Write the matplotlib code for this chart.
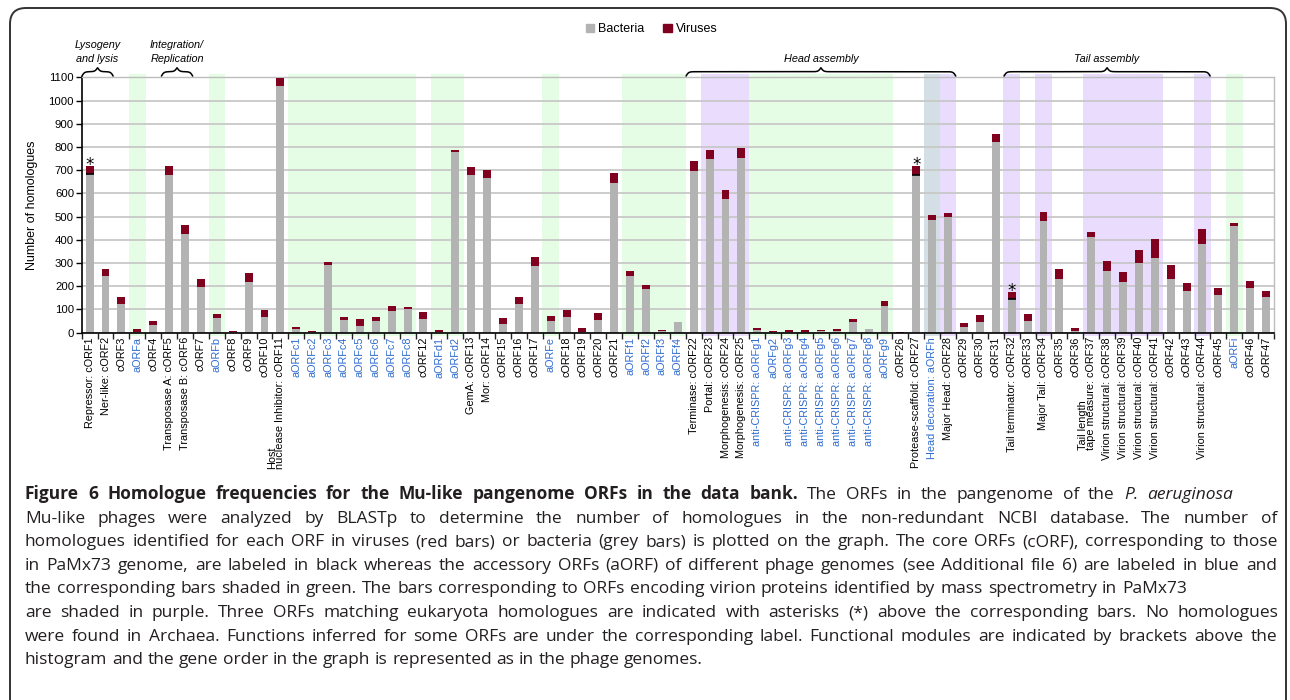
import numpy as np
import matplotlib
matplotlib.use("Agg")
import matplotlib.pyplot as plt
from matplotlib.patches import Patch, FancyBboxPatch
from matplotlib.transforms import IdentityTransform

plt.rcParams['font.family'] = ['Liberation Sans', 'DejaVu Sans']

# ORF labels in genome order
labels = [
    "Repressor: cORF1", "Ner-like: cORF2", "cORF3", "aORFa", "cORF4",
    "Transposase A: cORF5", "Transposase B: cORF6", "cORF7", "aORFb", "cORF8",
    "cORF9", "cORF10", "Host\nnuclease Inhibitor: cORF11", "aORFc1", "aORFc2",
    "aORFc3", "aORFc4", "aORFc5", "aORFc6", "aORFc7",
    "aORFc8", "cORF12", "aORFd1", "aORFd2", "GemA: cORF13",
    "Mor: cORF14", "cORF15", "cORF16", "cORF17", "aORFe",
    "cORF18", "cORF19", "cORF20", "cORF21", "aORFf1",
    "aORFf2", "aORFf3", "aORFf4", "Terminase: cORF22", "Portal: cORF23",
    "Morphogenesis: cORF24", "Morphogenesis: cORF25", "anti-CRISPR: aORFg1", "aORFg2", "anti-CRISPR: aORFg3",
    "anti-CRISPR: aORFg4", "anti-CRISPR: aORFg5", "anti-CRISPR: aORFg6", "anti-CRISPR: aORFg7", "anti-CRISPR: aORFg8",
    "aORFg9", "cORF26", "Protease-scaffold: cORF27", "Head decoration: aORFh", "Major Head: cORF28",
    "cORF29", "cORF30", "cORF31", "Tail terminator: cORF32", "cORF33",
    "Major Tail: cORF34", "cORF35", "cORF36", "Tail length\ntape measure: cORF37", "Virion structural: cORF38",
    "Virion structural: cORF39", "Virion structural: cORF40", "Virion structural: cORF41", "cORF42", "cORF43",
    "Virion structural: cORF44", "cORF45", "aORFi", "cORF46", "cORF47",
]

bacteria = [
    683, 244, 123, 1, 33, 679, 425, 197, 63, 3,
    218, 67, 1062, 16, 4, 291, 55, 29, 50, 93,
    102, 59, 1, 778, 679, 666, 37, 123, 287, 50,
    67, 3, 55, 645, 244, 188, 6, 46, 696, 748,
    576, 752, 11, 4, 4, 4, 6, 7, 46, 16,
    115, 0, 680, 485, 498, 24, 46, 821, 145, 50,
    481, 231, 7, 412, 266, 218, 300, 322, 231, 179,
    382, 162, 459, 192, 153,
]

viruses = [
    35, 30, 31, 15, 17, 39, 39, 34, 17, 5,
    40, 32, 35, 8, 4, 13, 12, 30, 17, 22,
    8, 30, 10, 9, 34, 34, 26, 31, 39, 22,
    31, 17, 30, 43, 22, 17, 5, 0, 43, 39,
    38, 43, 9, 3, 7, 7, 5, 9, 13, 0,
    21, 3, 38, 22, 17, 18, 30, 35, 30, 30,
    39, 43, 13, 22, 43, 43, 56, 81, 60, 35,
    64, 30, 13, 31, 26,
]

# ORFs found by mass spectrometry (purple)
virion = ["cORF23", "cORF24", "cORF25", "aORFh", "cORF28", "cORF32", "cORF34",
          "cORF37", "cORF38", "cORF39", "cORF40", "cORF41", "cORF44"]
# ORFs with eukaryota homologues
starred = ["cORF1", "cORF27", "cORF32"]
# functional modules: (name, first ORF, last ORF)
modules = [("Lysogeny\nand lysis", "cORF1", "cORF2"),
           ("Integration/\nReplication", "cORF5", "cORF6"),
           ("Head assembly", "cORF22", "cORF28"),
           ("Tail assembly", "cORF32", "cORF44")]

caption = [
    [("Figure 6 Homologue frequencies for the Mu-like pangenome ORFs in the data bank.", "bold"),
     ("The ORFs in the pangenome of the", "normal"), ("P. aeruginosa", "italic")],
    [("Mu-like phages were analyzed by BLASTp to determine the number of homologues in the non-redundant NCBI database. The number of", "normal")],
    [("homologues identified for each ORF in viruses (red bars) or bacteria (grey bars) is plotted on the graph. The core ORFs (cORF), corresponding to those", "normal")],
    [("in PaMx73 genome, are labeled in black whereas the accessory ORFs (aORF) of different phage genomes (see Additional file 6) are labeled in blue and", "normal")],
    [("the corresponding bars shaded in green. The bars corresponding to ORFs encoding virion proteins identified by mass spectrometry in PaMx73", "normal")],
    [("are shaded in purple. Three ORFs matching eukaryota homologues are indicated with asterisks (*) above the corresponding bars. No homologues", "normal")],
    [("were found in Archaea. Functions inferred for some ORFs are under the corresponding label. Functional modules are indicated by brackets above the", "normal")],
    [("histogram and the gene order in the graph is represented as in the phage genomes.", "normal")],
]
caption_right = [1233, 1277, 1278, 1277, 1187, 1278, 1277, 731]
caption_justify = [True, True, True, True, True, True, True, False]

GREY = "#b3b3b3"
RED = "#800020"
BLUE = "#2f6bcf"
CAPFONT = "Open Sans"


def orf_id(label):
    return label.split(": ")[-1]


def idx(name):
    return [orf_id(l) for l in labels].index(name)


def brace(ax, a, b, y0=1103, y1=1124, y2=1141, beta=12):
    xh = np.linspace(a, (a + b) / 2, 300)
    yh = 1 / (1 + np.exp(-beta * (xh - xh[0]))) + 1 / (1 + np.exp(-beta * (xh - xh[-1])))
    xs = np.concatenate([xh, (a + b) - xh[::-1]])
    yn = np.concatenate([yh, yh[::-1]])
    y = np.where(yn <= 1, y0 + (yn - 0.5) * 2 * (y1 - y0), y1 + (yn - 1) * 2 * (y2 - y1))
    ax.plot(xs, y, color="black", lw=1.1, clip_on=False, solid_capstyle="butt")


def caption_words(fig, segs, y, fs):
    objs = []
    for text, st in segs:
        for w in text.split():
            objs.append(fig.text(0, y, w, fontsize=fs, family=CAPFONT, color="#231f20",
                                 weight="bold" if st == "bold" else "normal",
                                 style="italic" if st == "italic" else "normal",
                                 ha="left", va="baseline"))
    return objs


def space_width(fig, r, fs):
    p1 = fig.text(0, 0, "x x", fontsize=fs, family=CAPFONT)
    p2 = fig.text(0, 0, "xx", fontsize=fs, family=CAPFONT)
    s = p1.get_window_extent(r).width - p2.get_window_extent(r).width
    p1.remove()
    p2.remove()
    return s


def draw_caption(fig):
    r = fig.canvas.get_renderer()
    # pick a size: last line should reach its width, others must fit
    fs0 = 10.0
    sp0 = space_width(fig, r, fs0)
    scales = []
    for segs, right, just in zip(caption, caption_right, caption_justify):
        objs = caption_words(fig, segs, 0, fs0)
        w = sum(t.get_window_extent(r).width for t in objs) + sp0 * (len(objs) - 1)
        for t in objs:
            t.remove()
        s = (right - 25) / w
        scales.append(s * (0.985 if just else 1.0))
    fs = fs0 * min(scales)
    space = space_width(fig, r, fs)
    for k, (segs, right, just) in enumerate(zip(caption, caption_right, caption_justify)):
        y = 1 - (499 + k * 23.6) / 700
        objs = caption_words(fig, segs, y, fs)
        widths = [t.get_window_extent(r).width for t in objs]
        gap = (right - 25 - sum(widths)) / (len(objs) - 1) if just else space
        x = 25
        for t, w in zip(objs, widths):
            t.set_x(x / 1290)
            x += w + gap


def main():
    fig = plt.figure(figsize=(12.9, 7), dpi=100)
    ax = fig.add_axes([0.0633, 0.5247, 0.9243, 0.3649])
    n = len(labels)
    x = np.arange(n)

    # shading
    for i, lab in enumerate(labels):
        acc = "aORF" in lab
        vir = orf_id(lab) in virion
        if acc and vir:
            c = "#d3dfe4"
        elif acc:
            c = "#e5fde4"
        elif vir:
            c = "#e9dcfd"
        else:
            continue
        ax.axvspan(i - 0.52, i + 0.52, ymin=-0.012, ymax=1.012, color=c, lw=0, zorder=0, clip_on=False)

    ax.bar(x, bacteria, width=0.5, color=GREY, zorder=3, label="Bacteria")
    ax.bar(x, viruses, width=0.5, bottom=bacteria, color=RED, zorder=3, label="Viruses")

    for name in starred:
        i = idx(name)
        tot = bacteria[i] + viruses[i]
        ax.hlines(bacteria[i], i - 0.25, i + 0.25, color="black", lw=1.2, zorder=4)
        ax.annotate("*", (i, tot), xytext=(0, -3), textcoords="offset points",
                    ha="center", va="baseline", fontsize=12, family="DejaVu Sans")

    for name, first, last in modules:
        a, b = idx(first) - 0.5, idx(last) + 0.5
        brace(ax, a, b)
        ax.text((a + b) / 2, 1156, name, ha="center", va="bottom", style="italic",
                fontsize=7.8, linespacing=1.5, clip_on=False)

    ax.set_xlim(-0.5, n - 0.5)
    ax.set_ylim(0, 1100)
    ax.set_yticks(np.arange(0, 1101, 100))
    ax.yaxis.grid(True, color="#c8c8c8", lw=1.3)
    ax.set_axisbelow(True)
    ax.tick_params(axis="y", length=4, width=1, labelsize=8.2, pad=1.5)
    ax.set_ylabel("Number of homologues", fontsize=9)
    ax.yaxis.set_label_coords(-0.0366, 0.5)

    # tick labels: last line sits on the tick, a first line goes to its left
    ax.set_xticks(x)
    ax.set_xticklabels([l.split("\n")[-1] for l in labels], rotation=90, fontsize=7.8)
    ax.set_xticks(np.arange(-0.5, n, 1), minor=True)
    ax.tick_params(axis="x", which="major", length=0, pad=3)
    ax.tick_params(axis="x", which="minor", length=4, width=1, color="#222222")
    for lab, t in zip(labels, ax.get_xticklabels()):
        col = BLUE if "aORF" in lab else "black"
        t.set_color(col)
        if "\n" in lab:
            ax.annotate(lab.split("\n")[0], xy=(0.5, 0), xycoords=t, xytext=(-6.2, 0),
                        textcoords="offset points", rotation=90, ha="center", va="bottom",
                        fontsize=7.8, color=col, annotation_clip=False)

    for s in ["left", "bottom"]:
        ax.spines[s].set_color("black")
        ax.spines[s].set_linewidth(1.2)
    for s in ["top", "right"]:
        ax.spines[s].set_color("#bdbdbd")
        ax.spines[s].set_linewidth(1.0)
    ax.spines["bottom"].set_zorder(5)

    handles = [Patch(color=GREY), Patch(color=RED)]
    fig.legend(handles, ["Bacteria", "Viruses"], loc="center", bbox_to_anchor=(0.505, 0.958),
               ncol=2, frameon=False, handlelength=0.7, handleheight=0.7, handletextpad=0.3,
               columnspacing=1.5, fontsize=9)

    frame = FancyBboxPatch((10, -30), 1276, 722, boxstyle="round,pad=0,rounding_size=16",
                           transform=IdentityTransform(), fill=False, ec="#333333", lw=1.4)
    fig.add_artist(frame)

    draw_caption(fig)
    fig.savefig("out.png", dpi=100)


if __name__ == "__main__":
    main()
